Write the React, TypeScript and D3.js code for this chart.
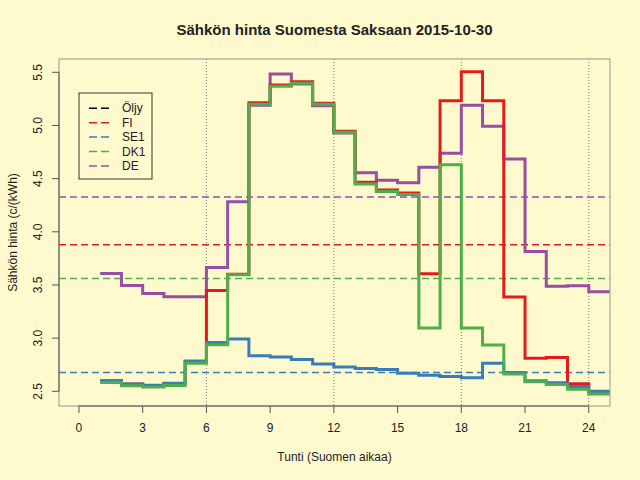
import React from "react";
import * as d3 from "d3";

const hours = [1, 2, 3, 4, 5, 6, 7, 8, 9, 10, 11, 12, 13, 14, 15, 16, 17, 18, 19, 20, 21, 22, 23, 24];
const fiValues = [2.599, 2.568, 2.55, 2.574, 2.78, 3.449, 3.6, 5.214, 5.38, 5.41, 5.208, 4.945, 4.465, 4.393, 4.364, 3.605, 5.233, 5.506, 5.233, 3.386, 2.812, 2.819, 2.571, 2.492];
const se1Values = [2.6, 2.568, 2.558, 2.576, 2.785, 2.96, 2.991, 2.834, 2.822, 2.8, 2.756, 2.728, 2.715, 2.706, 2.671, 2.652, 2.64, 2.627, 2.763, 2.678, 2.6, 2.58, 2.546, 2.5];
const dk1Values = [2.584, 2.552, 2.54, 2.555, 2.763, 2.937, 3.596, 5.2, 5.368, 5.396, 5.2, 4.936, 4.449, 4.38, 4.352, 3.095, 4.63, 3.095, 2.935, 2.662, 2.59, 2.565, 2.52, 2.474];
const deValues = [3.609, 3.496, 3.42, 3.389, 3.389, 3.665, 4.283, 5.19, 5.484, 5.39, 5.186, 4.93, 4.556, 4.484, 4.462, 4.606, 4.738, 5.19, 4.992, 4.684, 3.816, 3.487, 3.493, 3.436];
const seriesNames = ["Öljy", "FI", "SE1", "DK1", "DE"];
const seriesColors = ["#000000", "#E41A1C", "#377EB8", "#4DAF4A", "#984EA3"];
const meanValues = [null, 3.878, 2.678, 3.562, 4.327];
const xTicks = [0, 3, 6, 9, 12, 15, 18, 21, 24];
const yTicks = [2.5, 3.0, 3.5, 4.0, 4.5, 5.0, 5.5];
const gridHours = [6, 12, 18, 24];

const W = 640;
const H = 480;
const L = 59;
const R = 610;
const T = 59;
const B = 406;
const BG = "#FFFACD";
const FONT = "'Liberation Sans', Arial, Helvetica, sans-serif";

export default function App() {
  const x = d3.scaleLinear().domain([-0.94, 25]).range([L, R]);
  const y = d3.scaleLinear().domain([2.362, 5.625]).range([B, T]);

  const line = d3
    .line<[number, number]>()
    .x((d) => x(d[0]))
    .y((d) => y(d[1]))
    .curve(d3.curveStepAfter);

  const mk = (vals: number[]) => {
    const pts: [number, number][] = hours.map((h, i) => [h, vals[i]]);
    pts.push([hours[hours.length - 1] + 1, vals[vals.length - 1]]);
    return line(pts) || "";
  };

  const drawOrder = [
    { vals: deValues, idx: 4 },
    { vals: fiValues, idx: 1 },
    { vals: se1Values, idx: 2 },
    { vals: dk1Values, idx: 3 },
  ];

  const legX = 79;
  const legY = 93;
  const legW = 73;
  const legH = 86;

  return (
    <svg
      width={W}
      height={H}
      style={{ position: "absolute", left: 0, top: 0, background: BG }}
      fontFamily={FONT}
    >
      <rect x={0} y={0} width={W} height={H} fill={BG} />
      <defs>
        <clipPath id="plotclip">
          <rect x={L} y={T} width={R - L} height={B - T} />
        </clipPath>
      </defs>
      <text x={(L + R) / 2} y={35} textAnchor="middle" fontSize={15} fontWeight="bold" fill="#222">
        Sähkön hinta Suomesta Saksaan 2015-10-30
      </text>

      {/* grid */}
      {gridHours.map((h) => (
        <line key={h} x1={x(h)} x2={x(h)} y1={T} y2={B} stroke="#777" strokeWidth={1} strokeDasharray="1,2" />
      ))}

      {/* mean lines */}
      <g clipPath="url(#plotclip)">
        {meanValues.map((m, i) =>
          m === null ? null : (
            <line
              key={i}
              x1={L}
              x2={R}
              y1={y(m)}
              y2={y(m)}
              stroke={seriesColors[i]}
              strokeWidth={1.5}
              strokeDasharray="7,4"
            />
          )
        )}
        {drawOrder.map((s) => (
          <path
            key={s.idx}
            d={mk(s.vals)}
            fill="none"
            stroke={seriesColors[s.idx]}
            strokeWidth={3}
            strokeLinejoin="miter"
          />
        ))}
      </g>

      {/* box */}
      <rect x={L} y={T} width={R - L} height={B - T} fill="none" stroke="#aaa59a" strokeWidth={1.2} />

      {/* y axis */}
      <line x1={L} x2={L} y1={y(2.5)} y2={y(5.5)} stroke="#555" strokeWidth={1} />
      {yTicks.map((t) => (
        <g key={t}>
          <line x1={L - 7} x2={L} y1={y(t)} y2={y(t)} stroke="#555" strokeWidth={1} />
          <text
            transform={`translate(${38},${y(t)}) rotate(-90)`}
            textAnchor="middle"
            dominantBaseline="central"
            fontSize={12}
            fill="#222"
          >
            {t.toFixed(1)}
          </text>
        </g>
      ))}

      {/* x axis */}
      <line x1={x(0)} x2={x(24)} y1={B} y2={B} stroke="#555" strokeWidth={1} />
      {xTicks.map((t) => (
        <g key={t}>
          <line x1={x(t)} x2={x(t)} y1={B} y2={B + 7} stroke="#555" strokeWidth={1} />
          <text x={x(t)} y={432} textAnchor="middle" fontSize={12} fill="#222">
            {t}
          </text>
        </g>
      ))}

      <text x={(L + R) / 2} y={461} textAnchor="middle" fontSize={12} fill="#222">
        Tunti (Suomen aikaa)
      </text>
      <text
        transform={`translate(${13},${(T + B) / 2}) rotate(-90)`}
        textAnchor="middle"
        dominantBaseline="central"
        fontSize={12}
        fill="#222"
      >
        Sähkön hinta (c/(kWh)
      </text>

      {/* legend */}
      <rect x={legX} y={legY} width={legW} height={legH} fill={BG} stroke="#333" strokeWidth={1} />
      {seriesNames.map((n, i) => {
        const cy = legY + 15.3 + i * 14.4;
        return (
          <g key={n}>
            <line
              x1={89}
              x2={109}
              y1={cy}
              y2={cy}
              stroke={seriesColors[i]}
              strokeWidth={1.5}
              strokeDasharray="8,4"
            />
            <text x={122} y={cy} dominantBaseline="central" fontSize={12} fill="#222">
              {n}
            </text>
          </g>
        );
      })}
    </svg>
  );
}
